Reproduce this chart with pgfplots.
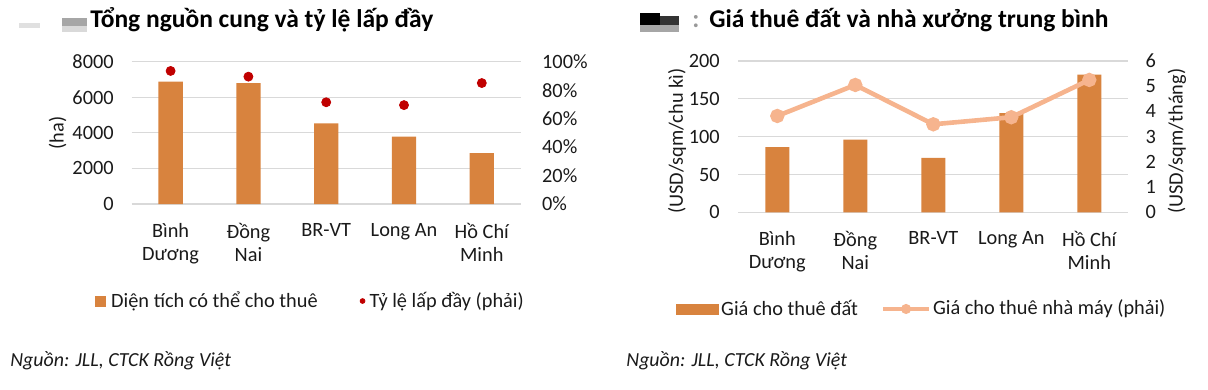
\documentclass[border=0pt]{standalone}
\usepackage{fontspec}
\setmainfont{Carlito}
\usepackage{pgfplots}
\usepackage{pgfplotstable}
\pgfplotsset{compat=1.18}
\definecolor{barc}{RGB}{216,131,62}
\definecolor{dotc}{RGB}{192,0,0}
\definecolor{linec}{RGB}{246,180,142}
\definecolor{gridc}{RGB}{217,217,217}
\definecolor{txt}{RGB}{26,26,26}

\pgfplotstableread{
x val
0 6880
1 6800
2 4540
3 3790
4 2860
}\supply
\pgfplotstableread{
x val
0 93.5
1 89.5
2 71.5
3 69.5
4 85.0
}\occup
\pgfplotstableread{
x val
0 86
1 96
2 72
3 131
4 182
}\land
\pgfplotstableread{
x val
0 3.82
1 5.05
2 3.49
3 3.77
4 5.25
}\factory

\pgfplotsset{
  base/.style={scale only axis, xmin=-0.5, xmax=4.5,
    axis line style={draw=none}, major tick length=0pt,
    tick style={draw=none},
    /pgf/number format/assume math mode=true,
    /pgf/number format/1000 sep={},
    ticklabel style={font=\fontsize{10.2}{12}\selectfont, text=txt},
    label style={font=\fontsize{10.2}{12}\selectfont, text=txt},
  },
  cats/.style={xtick={0,...,4},
    xticklabels={{Bình\\Dương},{Đồng\\Nai},{BR-VT},{Long An},{Hồ Chí\\Minh}},
    xticklabel style={align=center, font=\fontsize{10.2}{11.5}\selectfont, yshift=-6bp},
  },
}

\begin{document}
\begin{tikzpicture}
\useasboundingbox (0,0) rectangle (604bp,-195bp);

% redacted figure numbers
\fill[black!12] (9.5bp,-11.5bp) rectangle (20bp,-14bp);
\fill[black!35] (31bp,-9bp) rectangle (43.5bp,-13bp);
\fill[black!15] (31bp,-13bp) rectangle (43.5bp,-16bp);
\fill[black] (320bp,-6.5bp) rectangle (330bp,-12.5bp);
\fill[black!80] (330bp,-8bp) rectangle (339.5bp,-12.5bp);
\fill[black!35] (320bp,-12.5bp) rectangle (339.5bp,-16bp);

% titles
\node[anchor=base west, inner sep=0pt, font=\fontsize{12.8}{14}\selectfont\bfseries] at (45bp,-13.5bp) {Tổng nguồn cung và tỷ lệ lấp đầy};
\node[anchor=base west, inner sep=0pt, font=\fontsize{12.8}{14}\selectfont\bfseries, text=black!40] at (346bp,-13.5bp) {:};
\node[anchor=base west, inner sep=0pt, font=\fontsize{12.8}{14}\selectfont\bfseries] at (354.5bp,-13.5bp) {Giá thuê đất và nhà xưởng trung bình};

% sources
\node[anchor=base west, inner sep=0pt, font=\fontsize{10}{12}\selectfont\itshape, text=txt] at (5bp,-183bp) {Nguồn: JLL, CTCK Rồng Việt};
\node[anchor=base west, inner sep=0pt, font=\fontsize{10}{12}\selectfont\itshape, text=txt] at (313bp,-183bp) {Nguồn: JLL, CTCK Rồng Việt};

% ---------------- left chart ----------------
\begin{axis}[base, cats, at={(65.85bp,-102bp)}, anchor=south west,
  width=194.5bp, height=71.15bp, ymin=0, ymax=8000, ytick={0,2000,...,8000},
  ymajorgrids, grid style={gridc, line width=0.6bp},
  yticklabel style={xshift=-5.5bp},
  ylabel={(ha)},
  ylabel style={at={(axis description cs:-0.1907,0.5)}, anchor=center, rotate=0},
]
\addplot[ybar, bar width=12.15bp, fill=barc, draw=none] table[x=x,y=val]{\supply};
\end{axis}
\begin{axis}[base, at={(65.85bp,-102bp)}, anchor=south west,
  width=194.5bp, height=71.15bp, ymin=0, ymax=100,
  axis y line*=right, xtick=\empty,
  ytick={0,20,...,100}, yticklabels={0\%,20\%,40\%,60\%,80\%,100\%},
  yticklabel style={xshift=7.2bp},
  legend style={at={(axis description cs:-0.0943,-0.6817)}, anchor=west,
    draw=none, fill=none, inner sep=0pt, font=\fontsize{10.2}{12}\selectfont,
    nodes={inner sep=1bp, text=txt}, legend columns=2,
    /tikz/every even column/.append style={column sep=20bp}},
  legend cell align=left,
]
\addlegendimage{legend image code/.code={\fill[barc] (0bp,-2.5bp) rectangle (5bp,2.5bp); \path (6.5bp,0bp);}}
\addlegendentry{Diện tích có thể cho thuê}
\addplot[only marks, mark=*, mark size=2.25bp, color=dotc,
  legend image code/.code={\fill[dotc] (1.2bp,0bp) circle (1.2bp); \path (3.5bp,0bp);}] table[x=x,y=val]{\occup};
\addlegendentry{Tỷ lệ lấp đầy (phải)}
\end{axis}

% ---------------- right chart ----------------
\begin{axis}[base, cats, at={(369.15bp,-106.15bp)}, anchor=south west,
  width=195bp, height=75.65bp, ymin=0, ymax=200, ytick={0,50,...,200},
  ymajorgrids, grid style={gridc, line width=0.6bp},
  yticklabel style={xshift=-5.8bp},
  ylabel={(USD/sqm/chu kì)},
  ylabel style={at={(axis description cs:-0.157,0.47)}, anchor=center, rotate=0},
]
\addplot[ybar, bar width=12bp, fill=barc, draw=none] table[x=x,y=val]{\land};
\end{axis}
\begin{axis}[base, at={(369.15bp,-106.15bp)}, anchor=south west,
  width=195bp, height=75.65bp, ymin=0, ymax=6, ytick={0,1,...,6},
  axis y line*=right, xtick=\empty,
  yticklabel style={xshift=5.2bp},
  ylabel={(USD/sqm/tháng)},
  ylabel style={at={(axis description cs:1.1249,0.47)}, anchor=center, rotate=0},
  legend style={at={(axis description cs:-0.1597,-0.639)}, anchor=west,
    draw=none, fill=none, inner sep=0pt, font=\fontsize{10.2}{12}\selectfont,
    nodes={inner sep=1bp, text=txt}, legend columns=2,
    /tikz/every even column/.append style={column sep=10.5bp}},
  legend cell align=left,
]
\addlegendimage{legend image code/.code={\fill[barc] (0bp,-2.5bp) rectangle (21bp,2.5bp);}}
\addlegendentry{Giá cho thuê đất}
\addplot[color=linec, line width=2.3bp, mark=*, mark size=2.4bp,
  mark options={fill=linec, draw=linec},
  legend image code/.code={\draw[linec, line width=2bp] (0bp,0bp) -- (23bp,0bp); \fill[linec] (11.5bp,0bp) circle (1.3bp);}] table[x=x,y=val]{\factory};
\addlegendentry{Giá cho thuê nhà máy (phải)}
\end{axis}
\end{tikzpicture}
\end{document}
